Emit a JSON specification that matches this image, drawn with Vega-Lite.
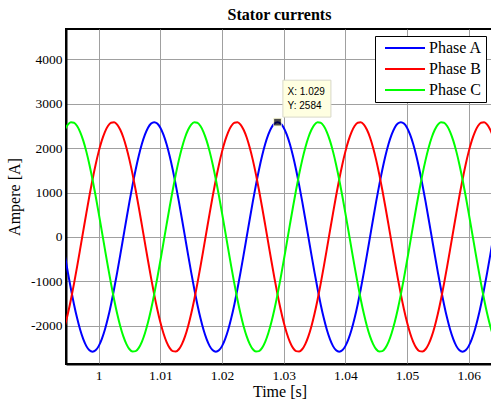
{
  "$schema": "https://vega.github.io/schema/vega-lite/v6.json",
  "autosize": "none",
  "width": 427,
  "height": 335,
  "padding": {"left": 66, "top": 29, "right": 0, "bottom": 41},
  "background": "white",
  "title": {"text": "Stator currents", "font": "Liberation Serif", "fontSize": 16, "fontWeight": "bold", "color": "black", "offset": 6, "anchor": "middle"},
  "config": {
    "view": {"stroke": "black", "strokeWidth": 2},
    "axis": {"labelFont": "Liberation Serif", "labelFontSize": 13.5, "labelColor": "black", "titleFont": "Liberation Serif", "titleFontSize": 16, "titleFontWeight": "normal", "titleColor": "black", "domainColor": "black", "domainWidth": 2, "ticks": false, "gridColor": "#a0a0a0", "gridWidth": 1, "gridOpacity": 1}
  },
  "layer": [
    {
      "data": {"values": [
{"t":0.9935,"A":404,"B":-2412,"C":2008},
{"t":0.994,"A":0,"B":-2238,"C":2238},
{"t":0.9945,"A":-404,"B":-2008,"C":2412},
{"t":0.995,"A":-799,"B":-1729,"C":2528},
{"t":0.9955,"A":-1173,"B":-1407,"C":2580},
{"t":0.996,"A":-1519,"B":-1051,"C":2570},
{"t":0.9965,"A":-1827,"B":-669,"C":2496},
{"t":0.997,"A":-2091,"B":-270,"C":2361},
{"t":0.9975,"A":-2302,"B":135,"C":2167},
{"t":0.998,"A":-2458,"B":537,"C":1920},
{"t":0.9985,"A":-2552,"B":926,"C":1626},
{"t":0.999,"A":-2584,"B":1292,"C":1292},
{"t":0.9995,"A":-2552,"B":1626,"C":926},
{"t":1.0,"A":-2458,"B":1920,"C":537},
{"t":1.0005,"A":-2302,"B":2167,"C":135},
{"t":1.001,"A":-2091,"B":2361,"C":-270},
{"t":1.0015,"A":-1827,"B":2496,"C":-669},
{"t":1.002,"A":-1519,"B":2570,"C":-1051},
{"t":1.0025,"A":-1173,"B":2580,"C":-1407},
{"t":1.003,"A":-799,"B":2528,"C":-1729},
{"t":1.0035,"A":-404,"B":2412,"C":-2008},
{"t":1.004,"A":0,"B":2238,"C":-2238},
{"t":1.0045,"A":404,"B":2008,"C":-2412},
{"t":1.005,"A":799,"B":1729,"C":-2528},
{"t":1.0055,"A":1173,"B":1407,"C":-2580},
{"t":1.006,"A":1519,"B":1051,"C":-2570},
{"t":1.0065,"A":1827,"B":669,"C":-2496},
{"t":1.007,"A":2091,"B":270,"C":-2361},
{"t":1.0075,"A":2302,"B":-135,"C":-2167},
{"t":1.008,"A":2458,"B":-537,"C":-1920},
{"t":1.0085,"A":2552,"B":-926,"C":-1626},
{"t":1.009,"A":2584,"B":-1292,"C":-1292},
{"t":1.0095,"A":2552,"B":-1626,"C":-926},
{"t":1.01,"A":2458,"B":-1920,"C":-537},
{"t":1.0105,"A":2302,"B":-2167,"C":-135},
{"t":1.011,"A":2091,"B":-2361,"C":270},
{"t":1.0115,"A":1827,"B":-2496,"C":669},
{"t":1.012,"A":1519,"B":-2570,"C":1051},
{"t":1.0125,"A":1173,"B":-2580,"C":1407},
{"t":1.013,"A":799,"B":-2528,"C":1729},
{"t":1.0135,"A":404,"B":-2412,"C":2008},
{"t":1.014,"A":0,"B":-2238,"C":2238},
{"t":1.0145,"A":-404,"B":-2008,"C":2412},
{"t":1.015,"A":-799,"B":-1729,"C":2528},
{"t":1.0155,"A":-1173,"B":-1407,"C":2580},
{"t":1.016,"A":-1519,"B":-1051,"C":2570},
{"t":1.0165,"A":-1827,"B":-669,"C":2496},
{"t":1.017,"A":-2091,"B":-270,"C":2361},
{"t":1.0175,"A":-2302,"B":135,"C":2167},
{"t":1.018,"A":-2458,"B":537,"C":1920},
{"t":1.0185,"A":-2552,"B":926,"C":1626},
{"t":1.019,"A":-2584,"B":1292,"C":1292},
{"t":1.0195,"A":-2552,"B":1626,"C":926},
{"t":1.02,"A":-2458,"B":1920,"C":537},
{"t":1.0205,"A":-2302,"B":2167,"C":135},
{"t":1.021,"A":-2091,"B":2361,"C":-270},
{"t":1.0215,"A":-1827,"B":2496,"C":-669},
{"t":1.022,"A":-1519,"B":2570,"C":-1051},
{"t":1.0225,"A":-1173,"B":2580,"C":-1407},
{"t":1.023,"A":-799,"B":2528,"C":-1729},
{"t":1.0235,"A":-404,"B":2412,"C":-2008},
{"t":1.024,"A":0,"B":2238,"C":-2238},
{"t":1.0245,"A":404,"B":2008,"C":-2412},
{"t":1.025,"A":799,"B":1729,"C":-2528},
{"t":1.0255,"A":1173,"B":1407,"C":-2580},
{"t":1.026,"A":1519,"B":1051,"C":-2570},
{"t":1.0265,"A":1827,"B":669,"C":-2496},
{"t":1.027,"A":2091,"B":270,"C":-2361},
{"t":1.0275,"A":2302,"B":-135,"C":-2167},
{"t":1.028,"A":2458,"B":-537,"C":-1920},
{"t":1.0285,"A":2552,"B":-926,"C":-1626},
{"t":1.029,"A":2584,"B":-1292,"C":-1292},
{"t":1.0295,"A":2552,"B":-1626,"C":-926},
{"t":1.03,"A":2458,"B":-1920,"C":-537},
{"t":1.0305,"A":2302,"B":-2167,"C":-135},
{"t":1.031,"A":2091,"B":-2361,"C":270},
{"t":1.0315,"A":1827,"B":-2496,"C":669},
{"t":1.032,"A":1519,"B":-2570,"C":1051},
{"t":1.0325,"A":1173,"B":-2580,"C":1407},
{"t":1.033,"A":799,"B":-2528,"C":1729},
{"t":1.0335,"A":404,"B":-2412,"C":2008},
{"t":1.034,"A":0,"B":-2238,"C":2238},
{"t":1.0345,"A":-404,"B":-2008,"C":2412},
{"t":1.035,"A":-799,"B":-1729,"C":2528},
{"t":1.0355,"A":-1173,"B":-1407,"C":2580},
{"t":1.036,"A":-1519,"B":-1051,"C":2570},
{"t":1.0365,"A":-1827,"B":-669,"C":2496},
{"t":1.037,"A":-2091,"B":-270,"C":2361},
{"t":1.0375,"A":-2302,"B":135,"C":2167},
{"t":1.038,"A":-2458,"B":537,"C":1920},
{"t":1.0385,"A":-2552,"B":926,"C":1626},
{"t":1.039,"A":-2584,"B":1292,"C":1292},
{"t":1.0395,"A":-2552,"B":1626,"C":926},
{"t":1.04,"A":-2458,"B":1920,"C":537},
{"t":1.0405,"A":-2302,"B":2167,"C":135},
{"t":1.041,"A":-2091,"B":2361,"C":-270},
{"t":1.0415,"A":-1827,"B":2496,"C":-669},
{"t":1.042,"A":-1519,"B":2570,"C":-1051},
{"t":1.0425,"A":-1173,"B":2580,"C":-1407},
{"t":1.043,"A":-799,"B":2528,"C":-1729},
{"t":1.0435,"A":-404,"B":2412,"C":-2008},
{"t":1.044,"A":0,"B":2238,"C":-2238},
{"t":1.0445,"A":404,"B":2008,"C":-2412},
{"t":1.045,"A":799,"B":1729,"C":-2528},
{"t":1.0455,"A":1173,"B":1407,"C":-2580},
{"t":1.046,"A":1519,"B":1051,"C":-2570},
{"t":1.0465,"A":1827,"B":669,"C":-2496},
{"t":1.047,"A":2091,"B":270,"C":-2361},
{"t":1.0475,"A":2302,"B":-135,"C":-2167},
{"t":1.048,"A":2458,"B":-537,"C":-1920},
{"t":1.0485,"A":2552,"B":-926,"C":-1626},
{"t":1.049,"A":2584,"B":-1292,"C":-1292},
{"t":1.0495,"A":2552,"B":-1626,"C":-926},
{"t":1.05,"A":2458,"B":-1920,"C":-537},
{"t":1.0505,"A":2302,"B":-2167,"C":-135},
{"t":1.051,"A":2091,"B":-2361,"C":270},
{"t":1.0515,"A":1827,"B":-2496,"C":669},
{"t":1.052,"A":1519,"B":-2570,"C":1051},
{"t":1.0525,"A":1173,"B":-2580,"C":1407},
{"t":1.053,"A":799,"B":-2528,"C":1729},
{"t":1.0535,"A":404,"B":-2412,"C":2008},
{"t":1.054,"A":0,"B":-2238,"C":2238},
{"t":1.0545,"A":-404,"B":-2008,"C":2412},
{"t":1.055,"A":-799,"B":-1729,"C":2528},
{"t":1.0555,"A":-1173,"B":-1407,"C":2580},
{"t":1.056,"A":-1519,"B":-1051,"C":2570},
{"t":1.0565,"A":-1827,"B":-669,"C":2496},
{"t":1.057,"A":-2091,"B":-270,"C":2361},
{"t":1.0575,"A":-2302,"B":135,"C":2167},
{"t":1.058,"A":-2458,"B":537,"C":1920},
{"t":1.0585,"A":-2552,"B":926,"C":1626},
{"t":1.059,"A":-2584,"B":1292,"C":1292},
{"t":1.0595,"A":-2552,"B":1626,"C":926},
{"t":1.06,"A":-2458,"B":1920,"C":537},
{"t":1.0605,"A":-2302,"B":2167,"C":135},
{"t":1.061,"A":-2091,"B":2361,"C":-270},
{"t":1.0615,"A":-1827,"B":2496,"C":-669},
{"t":1.062,"A":-1519,"B":2570,"C":-1051},
{"t":1.0625,"A":-1173,"B":2580,"C":-1407},
{"t":1.063,"A":-799,"B":2528,"C":-1729},
{"t":1.0635,"A":-404,"B":2412,"C":-2008},
{"t":1.064,"A":0,"B":2238,"C":-2238},
{"t":1.0645,"A":404,"B":2008,"C":-2412},
{"t":1.065,"A":799,"B":1729,"C":-2528}
      ]},
      "transform": [{"fold": ["A", "B", "C"], "as": ["phase", "v"]}],
      "mark": {"type": "line", "strokeWidth": 2, "clip": true, "interpolate": "monotone"},
      "encoding": {
        "x": {"field": "t", "type": "quantitative", "scale": {"domain": [0.9947, 1.06394], "nice": false, "zero": false},
              "axis": {"title": "Time [s]", "values": [1, 1.01, 1.02, 1.03, 1.04, 1.05, 1.06], "labelExpr": "'' + datum.value", "labelPadding": 4, "titlePadding": 2}},
        "y": {"field": "v", "type": "quantitative", "scale": {"domain": [-2860, 4680], "nice": false, "zero": false},
              "axis": {"title": "Ampere [A]", "values": [-2000, -1000, 0, 1000, 2000, 3000, 4000], "labelExpr": "'' + datum.value", "labelPadding": 4, "titlePadding": 8}},
        "color": {"field": "phase", "type": "nominal",
                  "scale": {"domain": ["A", "B", "C"], "range": ["#0000ff", "#ff0000", "#00ff00"]},
                  "legend": {"title": null, "orient": "top-right", "offset": 7, "labelExpr": "'Phase ' + datum.label",
                             "symbolType": "M-4,0H4", "symbolSize": 100, "symbolStrokeWidth": 2, "symbolOffset": 18,
                             "labelFont": "Liberation Serif", "labelFontSize": 16, "labelColor": "black", "labelOffset": 16,
                             "strokeColor": "black", "fillColor": "white", "padding": 4, "rowPadding": 5}}
      }
    },
    {
      "data": {"values": [{"x1": 1.02987, "x2": 1.03766, "y1": 3528, "y2": 2697}]},
      "mark": {"type": "rect", "fill": "#ffffe1", "stroke": "#d8d8c8", "strokeWidth": 1},
      "encoding": {
        "x": {"field": "x1", "type": "quantitative"},
        "x2": {"field": "x2"},
        "y": {"field": "y1", "type": "quantitative"},
        "y2": {"field": "y2"}
      }
    },
    {
      "data": {"values": [{"t": 1.03063, "v": 3265, "label": "X: 1.029"}, {"t": 1.03063, "v": 2944, "label": "Y: 2584"}]},
      "mark": {"type": "text", "align": "left", "baseline": "middle", "font": "Liberation Sans", "fontSize": 10, "color": "black"},
      "encoding": {
        "x": {"field": "t", "type": "quantitative"},
        "y": {"field": "v", "type": "quantitative"},
        "text": {"field": "label"}
      }
    },
    {
      "data": {"values": [{"t": 1.029, "v": 2584}]},
      "mark": {"type": "point", "shape": "square", "filled": true, "color": "black", "size": 60, "stroke": "#ffffcc", "strokeWidth": 1},
      "encoding": {
        "x": {"field": "t", "type": "quantitative"},
        "y": {"field": "v", "type": "quantitative"}
      }
    }
  ]
}
